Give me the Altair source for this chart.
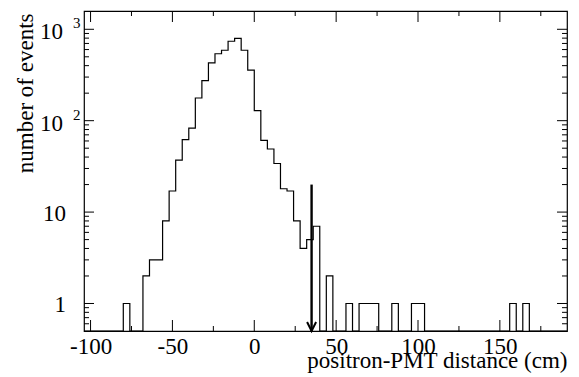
import altair as alt
import pandas as pd

# ---------------- data ----------------
BIN_LOW_EDGES = list(range(-104, 192, 4))          # 4 cm bins
NONZERO_BINS = [-80, -68, -64, -60, -56, -52, -48, -44, -40, -36, -32, -28, -24,
                -20, -16, -12, -8, -4, 0, 4, 8, 12, 16, 20, 24, 28, 32, 36, 44,
                56, 64, 68, 72, 84, 96, 100, 156, 164]
NONZERO_COUNTS = [1, 2, 3, 3, 8, 17, 37, 62, 83, 177, 274, 430, 540,
                  590, 740, 795, 590, 357, 129, 61, 49, 34, 18, 17, 8, 4, 5, 7, 2,
                  1, 1, 1, 1, 1, 1, 1, 1, 1]
LAST_EDGE = 192

Y_MAJOR = [1, 10, 100, 1000]
Y_MINOR = [0.6, 0.7, 0.8, 0.9, 2, 3, 4, 5, 6, 7, 8, 9,
           20, 30, 40, 50, 60, 70, 80, 90, 200, 300, 400, 500, 600, 700, 800, 900]
Y_LABEL_BASE = ["1", "10", "10", "10"]
Y_LABEL_SUP = ["", "", "2", "3"]
X_MAJOR = [-100, -50, 0, 50, 100, 150]
X_MINOR = [-75, -25, 25, 75, 125, 175]

CUT_X = [35]
CUT_TOP = [20]

X_DOMAIN = [-104, 191]
Y_DOMAIN = [0.5, 1585]

# ---------------- tables ----------------
cmap = dict(zip(NONZERO_BINS, NONZERO_COUNTS))
counts = [cmap.get(b, 0) for b in BIN_LOW_EDGES]
hist_df = pd.DataFrame({"edge": BIN_LOW_EDGES + [LAST_EDGE],
                        "count": counts + [counts[-1]]})
ymaj_df = pd.DataFrame({"v": Y_MAJOR})
ymin_df = pd.DataFrame({"v": Y_MINOR})
ylab_df = pd.DataFrame({"v": Y_MAJOR, "base": Y_LABEL_BASE, "sup": Y_LABEL_SUP})
xmaj_df = pd.DataFrame({"edge": X_MAJOR})
xmin_df = pd.DataFrame({"edge": X_MINOR})
arrow_df = pd.DataFrame({"edge": CUT_X, "v": CUT_TOP, "v0": [Y_DOMAIN[0]]})

FONT = "Liberation Serif"
W, H = 483, 320

xs = alt.Scale(domain=X_DOMAIN, nice=False, zero=False)
ys = alt.Scale(type="log", domain=Y_DOMAIN, nice=False)

xaxis = alt.Axis(values=X_MAJOR, ticks=False, domain=False, grid=False,
                 labelExpr="datum.value < 0 ? '-' + abs(datum.value) : '' + datum.value",
                 labelFont=FONT, labelFontSize=23, labelColor="black",
                 labelBaseline="alphabetic", labelPadding=22, labelFlush=False,
                 labelOverlap=False,
                 title="positron-PMT distance (cm)", titleFont=FONT,
                 titleFontSize=23, titleFontWeight="normal", titleColor="black",
                 titleX=W, titleY=36, titleAlign="right",
                 titleBaseline="alphabetic")
yaxis = alt.Axis(labels=False, ticks=False, domain=False, grid=False,
                 title="number of events", titleFont=FONT, titleFontSize=23,
                 titleFontWeight="normal", titleColor="black", titleAngle=270,
                 titleX=-52, titleY=2, titleAlign="right",
                 titleBaseline="alphabetic")

X = lambda f: alt.X(f, scale=xs, axis=xaxis)
Y = lambda f: alt.Y(f, scale=ys, axis=yaxis)

hist = alt.Chart(hist_df).transform_calculate(
    yplot="datum.count > 0 ? datum.count : %s" % Y_DOMAIN[0]
).mark_line(interpolate="step-after", color="black", strokeWidth=1.2,
            clip=True).encode(x=X("edge:Q"), y=Y("yplot:Q"))

def yticks(df, length):
    left = alt.Chart(df).mark_rule(color="black", strokeWidth=1).encode(
        y=Y("v:Q"), x=alt.value(0), x2=alt.value(length))
    right = alt.Chart(df).mark_rule(color="black", strokeWidth=1).encode(
        y=Y("v:Q"), x=alt.value(W), x2=alt.value(W - length))
    return [left, right]

def xticks(df, length):
    bottom = alt.Chart(df).mark_rule(color="black", strokeWidth=1).encode(
        x=X("edge:Q"), y=alt.value(H), y2=alt.value(H - length))
    top = alt.Chart(df).mark_rule(color="black", strokeWidth=1).encode(
        x=X("edge:Q"), y=alt.value(0), y2=alt.value(length))
    return [bottom, top]

ylab_plain = alt.Chart(ylab_df).transform_filter("datum.sup == ''").mark_text(
    align="right", baseline="alphabetic", dy=9, font=FONT, fontSize=23,
    color="black").encode(y=Y("v:Q"), x=alt.value(-18), text="base:N")
ylab_pow = alt.Chart(ylab_df).transform_filter("datum.sup != ''").mark_text(
    align="right", baseline="alphabetic", dy=10, font=FONT, fontSize=23,
    color="black").encode(y=Y("v:Q"), x=alt.value(-21), text="base:N")
ylab_sup = alt.Chart(ylab_df).transform_filter("datum.sup != ''").mark_text(
    align="left", baseline="alphabetic", dy=-1, font=FONT, fontSize=15,
    color="black").encode(y=Y("v:Q"), x=alt.value(-11), text="sup:N")

arrow_line = alt.Chart(arrow_df).mark_rule(color="black", strokeWidth=2.4).encode(
    x=X("edge:Q"), y=Y("v:Q"), y2="v0:Q")
arrow_head = alt.Chart(arrow_df).mark_point(
    shape="M -1 -2 L 0 0 L 1 -2", filled=False, color="black",
    strokeWidth=2, size=81, opacity=1).encode(x=X("edge:Q"), y=Y("v0:Q"))

layers = [hist] + yticks(ymaj_df, 10) + yticks(ymin_df, 5) + \
    xticks(xmaj_df, 11) + xticks(xmin_df, 5) + \
    [ylab_plain, ylab_pow, ylab_sup, arrow_line, arrow_head]

chart = alt.layer(*layers).properties(
    width=W, height=H,
    autosize=alt.AutoSizeParams(type="none"),
    padding={"left": 84, "top": 11, "right": 12, "bottom": 46},
    background="white",
).configure_view(stroke="black", strokeWidth=1.2
).configure_axis(labelFont=FONT, titleFont=FONT, labelFontWeight="normal"
).configure_text(font=FONT)

chart.save("out.html", embed_options={"renderer": "svg", "actions": False})
